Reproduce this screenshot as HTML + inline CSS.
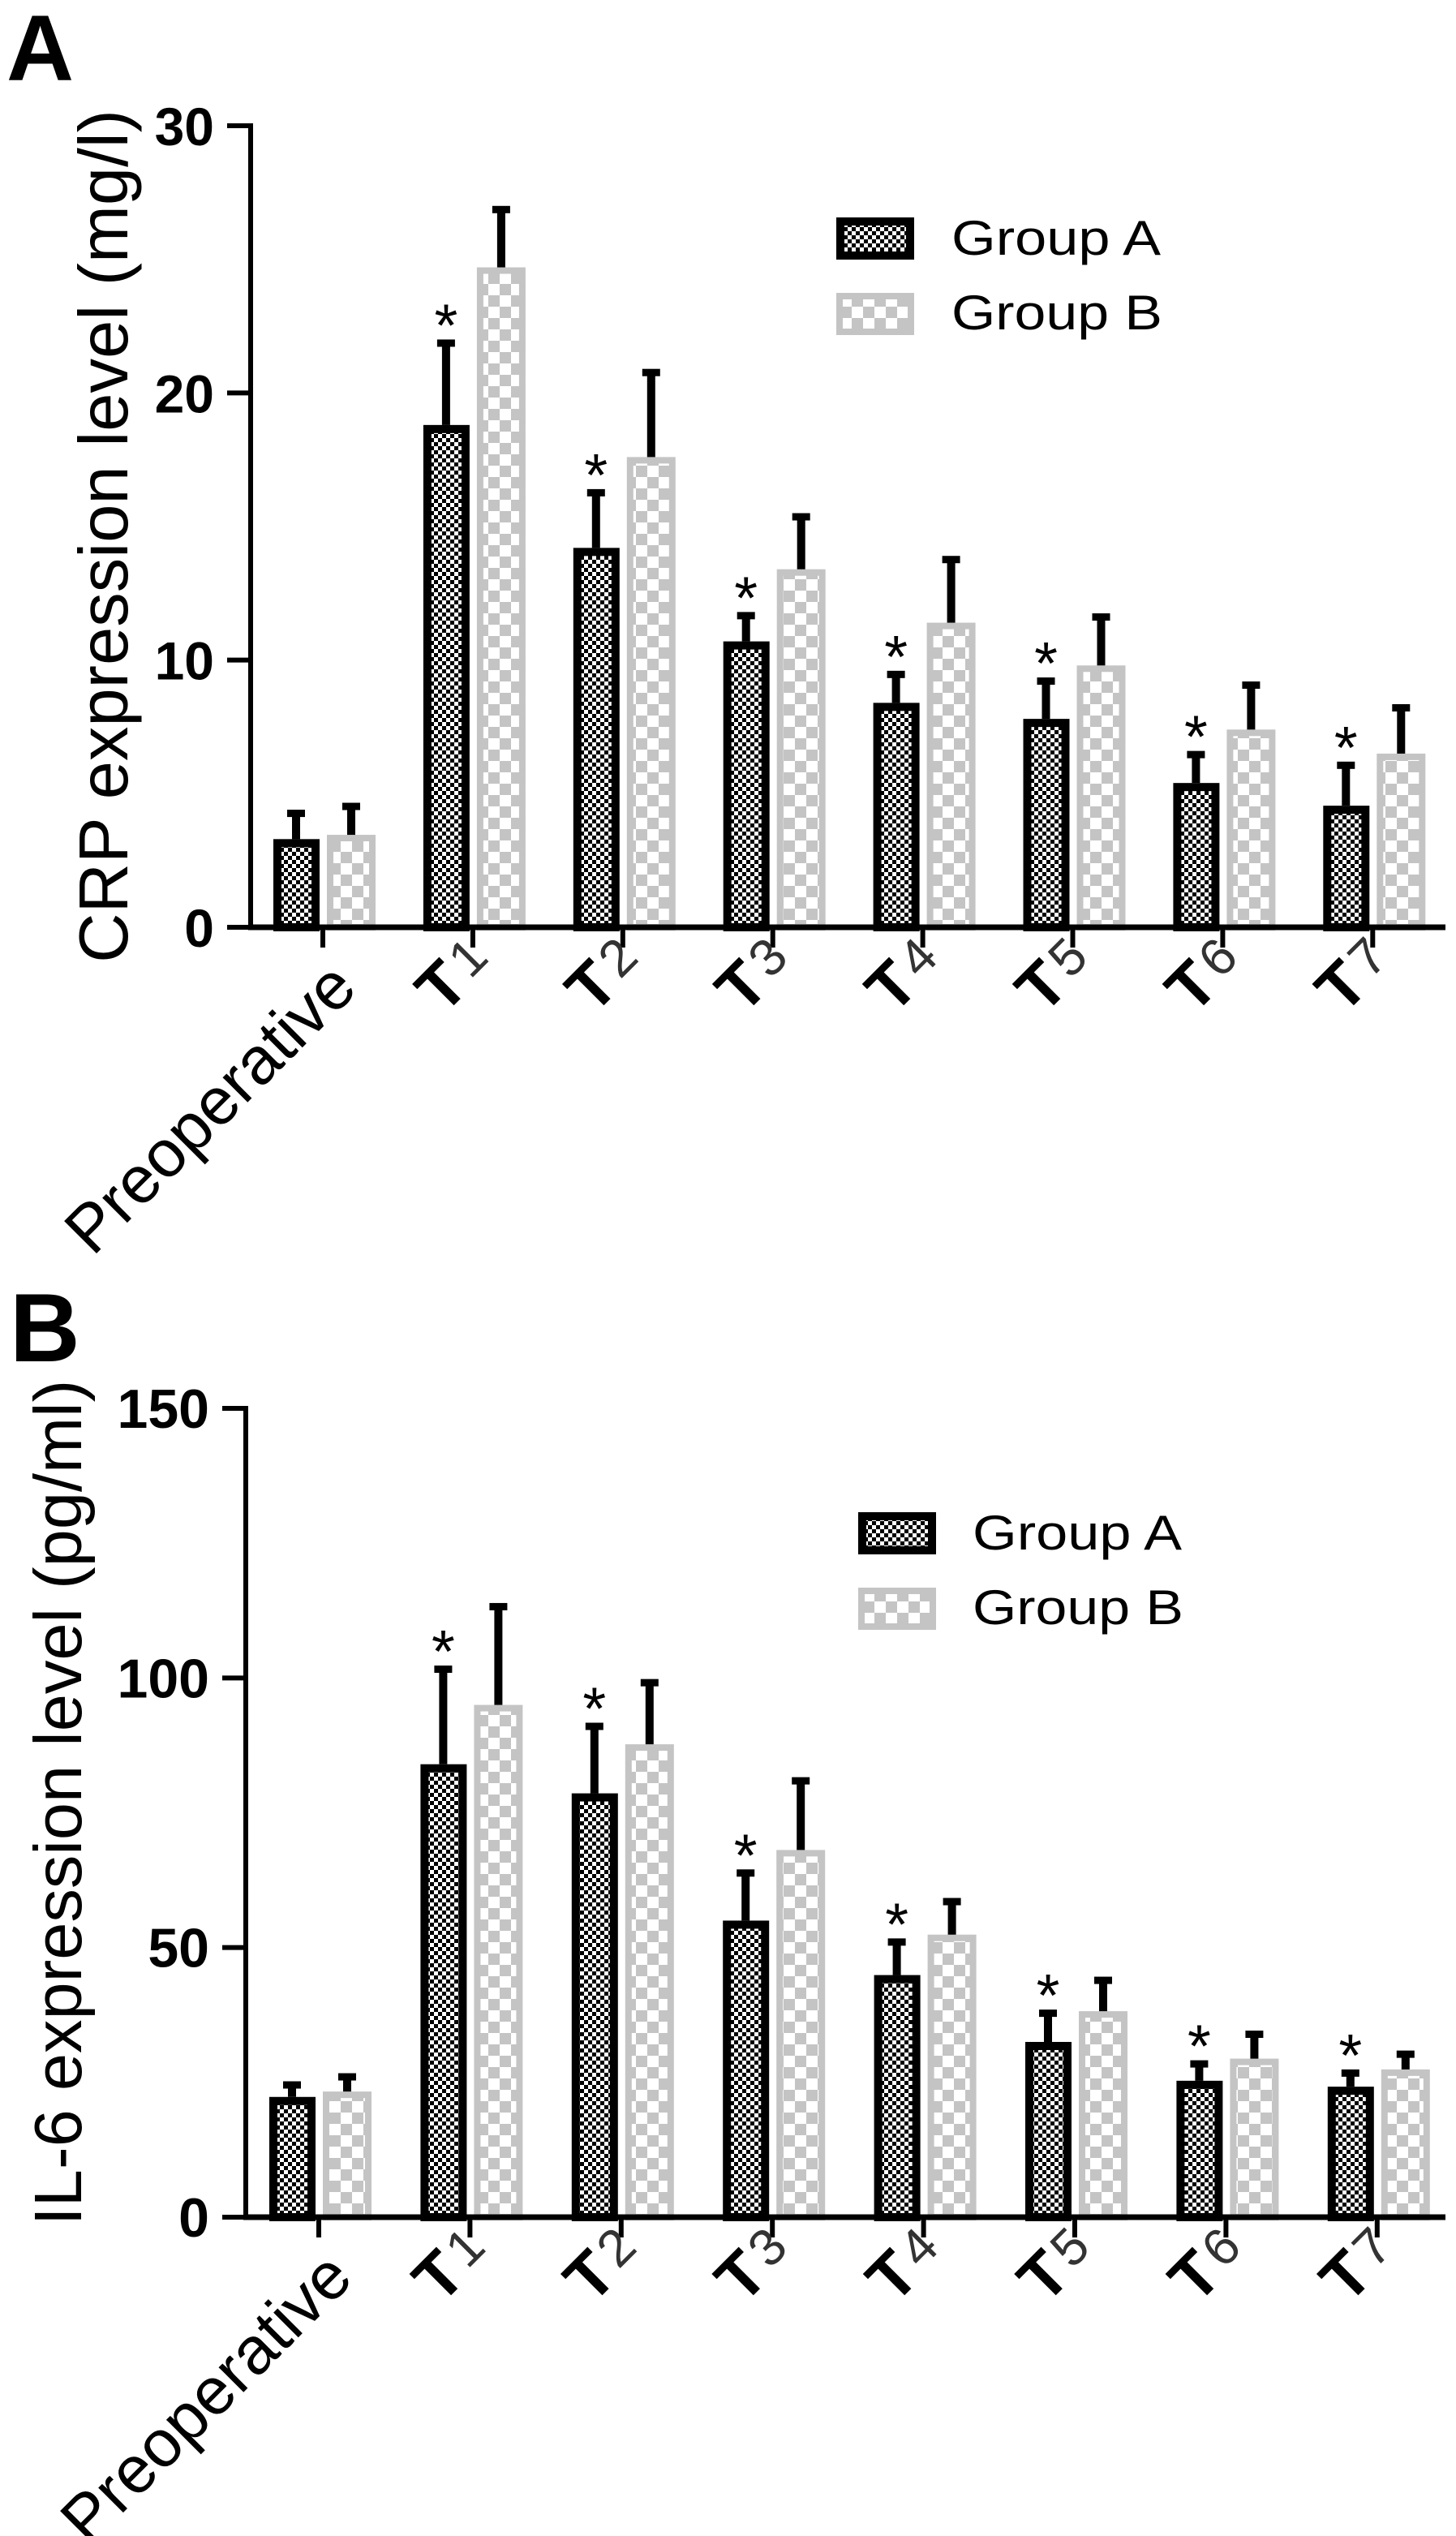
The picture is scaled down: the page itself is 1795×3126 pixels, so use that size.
<!DOCTYPE html>
<html><head><meta charset="utf-8"><style>
html,body{margin:0;padding:0;background:#fff;}
svg{display:block;font-family:"Liberation Sans",Arial,sans-serif;}
</style></head><body>
<svg id="fig" xmlns="http://www.w3.org/2000/svg" width="1795" height="3126" viewBox="0 0 1795 3126">
<defs>
<pattern id="patA" width="10" height="10" patternUnits="userSpaceOnUse">
<rect width="10" height="10" fill="#fff"/><rect width="5" height="5" fill="#000"/><rect x="5" y="5" width="5" height="5" fill="#000"/>
</pattern>
<pattern id="patB" width="28" height="28" patternUnits="userSpaceOnUse">
<rect width="28" height="28" fill="#c4c4c4"/><rect x="0" y="0" width="14" height="14" fill="#fff"/><rect x="14" y="14" width="14" height="14" fill="#fff"/>
</pattern>
</defs>
<text x="8" y="99" font-size="115" font-weight="bold">A</text>
<text x="12" y="1678" font-size="120" font-weight="bold">B</text>
<text transform="translate(157,661) rotate(-90)" text-anchor="middle" font-size="85">CRP expression level (mg/l)</text>
<text transform="translate(100,2222) rotate(-90)" text-anchor="middle" font-size="83">IL-6 expression level (pg/ml)</text>
<g id="chartA"></g>
<g id="chartB"></g>
</svg>
<script>
const categories = ["Preoperative","T1","T2","T3","T4","T5","T6","T7"];
const crpGroupA = [3.3, 18.8, 14.2, 10.7, 8.4, 7.8, 5.4, 4.55];
const crpGroupAErr = [1.1, 3.2, 2.2, 1.1, 1.2, 1.55, 1.2, 1.65];
const crpGroupB = [3.46, 24.7, 17.6, 13.4, 11.4, 9.8, 7.4, 6.5];
const crpGroupBErr = [1.2, 2.3, 3.3, 2.1, 2.5, 1.95, 1.8, 1.85];
const crpTicks = [0, 10, 20, 30];
const il6GroupA = [22.3, 84.0, 78.6, 55.0, 44.9, 32.5, 25.3, 24.2];
const il6GroupAErr = [2.9, 18.3, 13.1, 9.5, 6.8, 6.0, 3.8, 3.2];
const il6GroupB = [23.3, 95.0, 87.7, 68.1, 52.4, 38.2, 29.4, 27.4];
const il6GroupBErr = [3.4, 18.9, 12.1, 13.5, 6.8, 6.4, 5.2, 3.5];
const il6Ticks = [0, 50, 100, 150];
const significant = [false, true, true, true, true, true, true, true];

const NS = "http://www.w3.org/2000/svg";
function mk(parent, tag, attrs, text) {
  const e = document.createElementNS(NS, tag);
  for (const k in attrs) e.setAttribute(k, attrs[k]);
  if (text !== undefined) e.textContent = text;
  parent.appendChild(e);
  return e;
}

function drawChart(g, cfg) {
  const yScale = v => cfg.y0 - (v - 0) * (cfg.y0 - cfg.yTop) / cfg.yMax;
  const xScale = i => cfg.x0c + i * cfg.step;
  categories.forEach((c, i) => {
    const cx = xScale(i);
    const ya = yScale(cfg.a[i]);
    const ea = yScale(cfg.a[i] + cfg.ae[i]);
    const stA = mk(g, "line", {x1: cx - 33, x2: cx - 33, y1: ya, y2: ea + 3, stroke: "#000", "stroke-width": 10});
    
    
    const cpA = mk(g, "rect", {x: cx - 44, y: ea, width: 22, height: 9, fill: "#000"});
    
    
    const bA = mk(g, "rect", {x: cx - 56, y: ya + 5, width: 47, height: cfg.y0 - ya - 5, fill: "url(#patA)", stroke: "#000", "stroke-width": 10});
    
    
    const yb = yScale(cfg.b[i]);
    const eb = yScale(cfg.b[i] + cfg.be[i]);
    const stB = mk(g, "line", {x1: cx + 35, x2: cx + 35, y1: yb + 8, y2: eb + 3, stroke: "#000", "stroke-width": 10});
    
    
    const cpB = mk(g, "rect", {x: cx + 24, y: eb, width: 22, height: 9, fill: "#000"});
    
    
    const bB = mk(g, "rect", {x: cx + 9, y: yb + 4, width: 52, height: cfg.y0 - yb - 4, fill: "url(#patB)", stroke: "#c4c4c4", "stroke-width": 8});
    
    
    if (significant[i]) {
      const s = mk(g, "text", {x: cx - 33, y: ea + 8, "text-anchor": "middle", "font-size": 74}, "*");
      
      
    }
    const xt = mk(g, "line", {x1: cx, x2: cx, y1: cfg.y0, y2: cfg.y0 + 25, stroke: "#000", "stroke-width": 6});
    
    
    const lg = mk(g, "g", {});
    
    
    if (i === 0) {
      lg.setAttribute("transform", `translate(${cx + 45},${cfg.y0 + 78}) rotate(-45)`);
      mk(lg, "text", {x: 0, y: 0, "text-anchor": "end", "font-size": 82}, c);
    } else {
      lg.setAttribute("transform", `translate(${cx - 2},${cfg.y0 + 75}) rotate(-45)`);
      mk(lg, "text", {x: 0, y: 0, "text-anchor": "end", "font-size": 80, "font-weight": "bold"}, c.charAt(0));
      mk(lg, "text", {x: 6, y: -8, "text-anchor": "start", "font-size": 64, "font-weight": "normal", fill: "#333"}, c.slice(1));
    }
  });
  const ya = mk(g, "line", {x1: cfg.axX, x2: cfg.axX, y1: cfg.yTop - 3, y2: cfg.y0 + 3, stroke: "#000", "stroke-width": 6});
  
  
  const xa = mk(g, "line", {x1: cfg.axX - 3, x2: 1782, y1: cfg.y0, y2: cfg.y0, stroke: "#000", "stroke-width": 7});
  
  
  cfg.ticks.forEach(t => {
    const y = yScale(t);
    const tl = mk(g, "line", {x1: cfg.axX - 29, x2: cfg.axX, y1: y, y2: y, stroke: "#000", "stroke-width": 6});
    
    
    const tt = mk(g, "text", {x: cfg.axX - 45, y: y + 24, "text-anchor": "end", "font-size": cfg.tickFont, "font-weight": "bold"}, String(t));
    
    
  });
  const L = cfg.legend;
  const la = mk(g, "rect", {x: L.x + 5, y: L.yA + 5, width: 86, height: 42, fill: "url(#patA)", stroke: "#000", "stroke-width": 10});
  
  
  const lb = mk(g, "rect", {x: L.x + 4, y: L.yB + 4, width: 88, height: 44, fill: "url(#patB)", stroke: "#c4c4c4", "stroke-width": 8});
  
  
  const ta = mk(g, "text", {x: L.tx, y: L.yA + 46, "font-size": 60, textLength: 258, lengthAdjust: "spacingAndGlyphs"}, "Group A");
  
  
  const tb = mk(g, "text", {x: L.tx, y: L.yB + 45, "font-size": 60, textLength: 260, lengthAdjust: "spacingAndGlyphs"}, "Group B");
  
  
}

drawChart(document.getElementById("chartA"), {
  a: crpGroupA, ae: crpGroupAErr, b: crpGroupB, be: crpGroupBErr, ticks: crpTicks,
  yMax: 30, y0: 1143, yTop: 155, axX: 309, x0c: 398, step: 184.9, tickFont: 66,
  legend: {x: 1031, yA: 268, yB: 361, tx: 1173}
});
drawChart(document.getElementById("chartB"), {
  a: il6GroupA, ae: il6GroupAErr, b: il6GroupB, be: il6GroupBErr, ticks: il6Ticks,
  yMax: 150, y0: 2733, yTop: 1736, axX: 303, x0c: 393, step: 186.4, tickFont: 68,
  legend: {x: 1058, yA: 1864, yB: 1957, tx: 1199}
});
</script>
</body></html>
